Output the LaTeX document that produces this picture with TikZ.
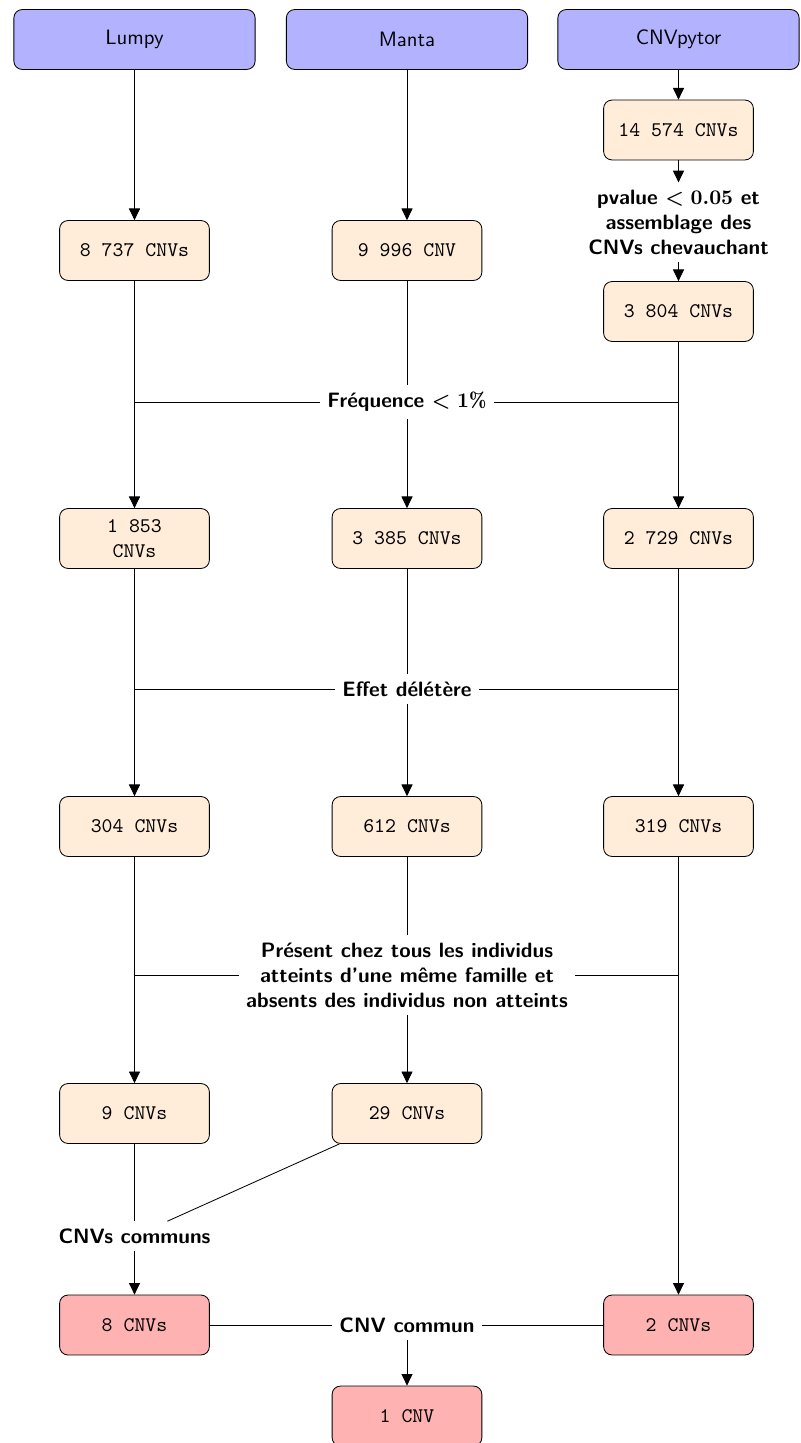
\documentclass[tikz,border=0pt]{standalone}
\usepackage{fontspec}
\usetikzlibrary{arrows.meta}
\begin{document}
\begin{tikzpicture}[x=0.4808pt,y=-0.4808pt,
  tool/.style={draw, rounded corners, fill=blue!30, minimum width=116pt, minimum height=28.8pt, font=\sffamily, inner sep=0pt},
  cnv/.style={draw, rounded corners, fill=orange!15, minimum width=72pt, minimum height=28.8pt, font=\ttfamily, align=center, inner sep=0pt},
  res/.style={cnv, fill=red!30},
  filt/.style={fill=white, font=\sffamily\bfseries\boldmath, align=center},
  arr/.style={-{Triangle[length=5.6pt,width=5.3pt]}}]
\useasboundingbox (0,0) rectangle (800,1443);

% tools
\node[tool] (lumpy) at (134.5,39.5) {Lumpy};
\node[tool] (manta) at (407,39.5) {Manta};
\node[tool] (pytor) at (678.5,39.5) {CNVpytor};

% CNVpytor pre-filter
\node[cnv] (p1) at (678.5,130) {14 574 CNVs};
\node[filt] (pval) at (678.5,222) {pvalue $<0.05$ et\\assemblage des\\CNVs chevauchant};
\node[cnv] (p2) at (678.5,311.5) {3 804 CNVs};

% row 2
\node[cnv] (l1) at (134.5,250.5) {8 737 CNVs};
\node[cnv] (m1) at (407,250.5) {9 996 CNV};

% frequency filter
\node[filt] (freq) at (407,402) {Fréquence $<1\%$};
\coordinate (fL) at (134.5,402);
\coordinate (fR) at (678.5,402);

% row 3
\node[cnv] (l2) at (134.5,538.5) {1 853\\CNVs};
\node[cnv] (m2) at (407,538.5) {3 385 CNVs};
\node[cnv] (p3) at (678.5,538.5) {2 729 CNVs};

% deleterious filter
\node[filt] (eff) at (407,689) {Effet délétère};
\coordinate (eL) at (134.5,689);
\coordinate (eR) at (678.5,689);

% row 4
\node[cnv] (l3) at (134.5,826.5) {304 CNVs};
\node[cnv] (m3) at (407,826.5) {612 CNVs};
\node[cnv] (p4) at (678.5,826.5) {319 CNVs};

% family filter
\node[filt] (fam) at (407,975) {Présent chez tous les individus\\atteints d’une même famille et\\absents des individus non atteints};
\coordinate (aL) at (134.5,975);
\coordinate (aR) at (678.5,975);

% row 5
\node[cnv] (l4) at (134.5,1113.5) {9 CNVs};
\node[cnv] (m4) at (407,1113.5) {29 CNVs};

\node[filt] (comm) at (134.5,1236) {CNVs communs};

% row 6
\node[res] (l5) at (134.5,1325) {8 CNVs};
\node[res] (p5) at (678.5,1325) {2 CNVs};
\node[filt] (one) at (407,1325) {CNV commun};
\node[res] (fin) at (407,1416) {1 CNV};

% connectors
\draw[arr] (lumpy) -- (l1);
\draw[arr] (manta) -- (m1);
\draw[arr] (pytor) -- (p1);
\draw[arr] (p1) -- (pval);
\draw[arr] (pval) -- (p2);

\draw[arr] (l1) -- (l2);
\draw (m1) -- (freq);
\draw[arr] (freq) -- (m2);
\draw[arr] (p2) -- (p3);
\draw (fL) -- (freq) -- (fR);

\draw[arr] (l2) -- (l3);
\draw (m2) -- (eff);
\draw[arr] (eff) -- (m3);
\draw[arr] (p3) -- (p4);
\draw (eL) -- (eff) -- (eR);

\draw[arr] (l3) -- (l4);
\draw (m3) -- (fam);
\draw[arr] (fam) -- (m4);
\draw[arr] (p4) -- (p5);
\draw (aL) -- (fam) -- (aR);

\draw (l4) -- (comm);
\draw (m4) -- (comm);
\draw[arr] (comm) -- (l5);

\draw (l5) -- (one) -- (p5);
\draw[arr] (one) -- (fin);
\end{tikzpicture}
\end{document}
